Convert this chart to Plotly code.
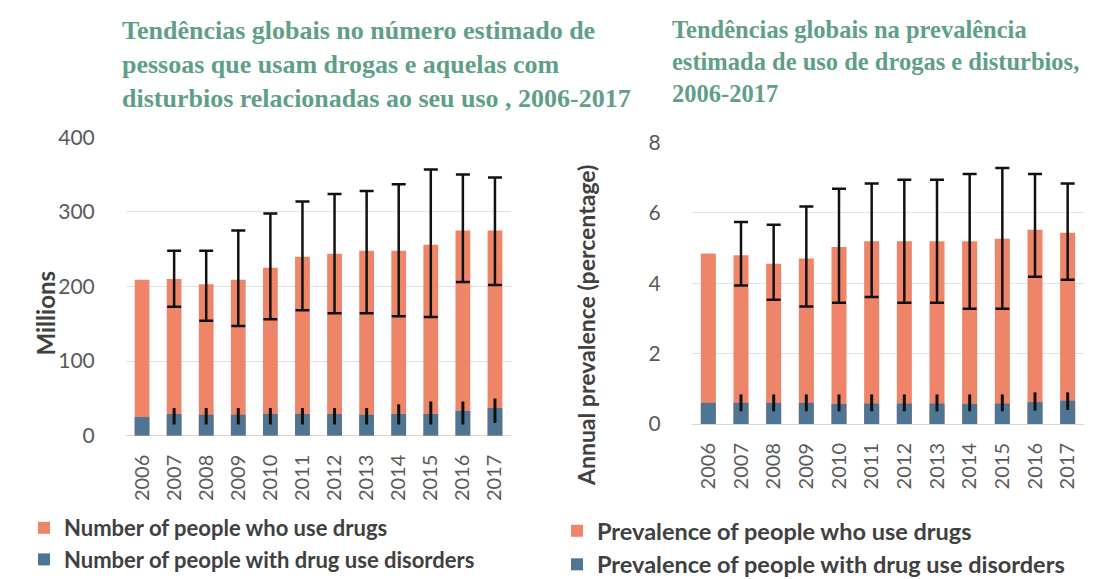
import numpy as np
import plotly.graph_objects as go

years = ["2006", "2007", "2008", "2009", "2010", "2011", "2012", "2013", "2014", "2015", "2016", "2017"]

# Left chart: millions of people (None = no uncertainty range shown)
users_millions = [209, 210, 203, 209, 225, 240, 244, 248, 248, 256, 275, 275]
users_millions_upper = [None, 248, 248, 275, 298, 314, 324, 328, 337, 357, 350, 346]
users_millions_lower = [None, 173, 154, 147, 156, 168, 164, 164, 160, 159, 206, 202]
disorders_millions = [25, 29, 28, 28, 29, 29, 29, 28, 29, 29, 33, 37]
disorders_millions_upper = [None, 37, 37, 37, 37, 37, 37, 37, 42, 46, 46, 50]
disorders_millions_lower = [None, 15, 15, 15, 15, 15, 15, 15, 15, 15, 15, 17]

# Right chart: annual prevalence (%)
users_prev = [4.84, 4.79, 4.55, 4.70, 5.03, 5.19, 5.19, 5.19, 5.19, 5.26, 5.52, 5.43]
users_prev_upper = [None, 5.74, 5.66, 6.18, 6.68, 6.83, 6.94, 6.94, 7.10, 7.27, 7.10, 6.83]
users_prev_lower = [None, 3.93, 3.53, 3.34, 3.44, 3.61, 3.44, 3.44, 3.27, 3.27, 4.18, 4.10]
disorders_prev = [0.60, 0.60, 0.60, 0.60, 0.57, 0.58, 0.58, 0.58, 0.57, 0.58, 0.62, 0.66]
disorders_prev_upper = [None, 0.84, 0.84, 0.84, 0.84, 0.84, 0.84, 0.84, 0.84, 0.84, 0.90, 0.90]
disorders_prev_lower = [None, 0.36, 0.36, 0.36, 0.36, 0.36, 0.36, 0.36, 0.36, 0.36, 0.38, 0.40]

title_left = "Tendências globais no número estimado de<br>pessoas que usam drogas e aquelas com<br>disturbios relacionadas ao seu uso , 2006-2017"
title_right = "Tendências globais na prevalência<br>estimada de uso de drogas e disturbios,<br>2006-2017"

ORANGE = "#EE8468"
BLUE = "#4E7593"
W, H = 1095, 579


def to_float(a):
    return np.array([np.nan if v is None else v for v in a], dtype=float)


def err(vals, up, lo, width, thick):
    v = to_float(vals)
    return dict(type="data", symmetric=False, array=to_float(up) - v, arrayminus=v - to_float(lo),
                color="#111111", thickness=thick, width=width, visible=True)


fig = go.Figure()
fig.add_trace(go.Bar(x=years, y=users_millions, name="Number of people who use drugs",
                     marker=dict(color=ORANGE, line=dict(width=0)),
                     error_y=err(users_millions, users_millions_upper, users_millions_lower, 7, 2.5),
                     xaxis="x", yaxis="y", legend="legend"))
fig.add_trace(go.Bar(x=years, y=disorders_millions, name="Number of people with drug use disorders",
                     marker=dict(color=BLUE, line=dict(width=0)),
                     error_y=err(disorders_millions, disorders_millions_upper, disorders_millions_lower, 0, 3),
                     xaxis="x", yaxis="y", legend="legend"))
fig.add_trace(go.Bar(x=years, y=users_prev, name="Prevalence of people who use drugs",
                     marker=dict(color=ORANGE, line=dict(width=0)),
                     error_y=err(users_prev, users_prev_upper, users_prev_lower, 7, 2.5),
                     xaxis="x2", yaxis="y2", legend="legend2"))
fig.add_trace(go.Bar(x=years, y=disorders_prev, name="Prevalence of people with drug use disorders",
                     marker=dict(color=BLUE, line=dict(width=0)),
                     error_y=err(disorders_prev, disorders_prev_upper, disorders_prev_lower, 0, 3),
                     xaxis="x2", yaxis="y2", legend="legend2"))

XTICKFONT = dict(family="Lato", size=20, color="#595959")
YTICKFONT = dict(family="Lato", size=21, color="#595959")
GRID = "#e3e3e3"

xcommon = dict(type="category", tickangle=-90, tickfont=XTICKFONT, showgrid=False, showline=False,
               ticks="outside", ticklen=10, tickcolor="rgba(0,0,0,0)", fixedrange=True)
ycommon = dict(tickfont=YTICKFONT, showgrid=True, gridcolor=GRID, gridwidth=1, zeroline=True,
               zerolinecolor="#d6d6d6", zerolinewidth=1, showline=False, ticks="outside",
               ticklen=26, tickcolor="rgba(0,0,0,0)", fixedrange=True)

fig.update_layout(
    width=W, height=H,
    margin=dict(l=0, r=0, t=0, b=0, autoexpand=False),
    paper_bgcolor="white", plot_bgcolor="white",
    barmode="overlay", bargap=0.54,
    xaxis=dict(domain=[118 / W, 503 / W], anchor="y", **xcommon),
    yaxis=dict(domain=[1 - 427.7 / H, 1 - 129.3 / H], anchor="x", range=[0, 400],
               tickvals=[0, 100, 200, 300, 400], **ycommon),
    xaxis2=dict(domain=[684 / W, 1076 / W], anchor="y2", **xcommon),
    yaxis2=dict(domain=[1 - 416 / H, 1 - 134.3 / H], anchor="x2", range=[0, 8],
                tickvals=[0, 2, 4, 6, 8], **ycommon),
    legend=dict(x=16 / W, y=1 - 499 / H, xref="container", yref="container",
                xanchor="left", yanchor="top", orientation="v",
                font=dict(family="Lato", size=22, color="#404040", weight="bold"),
                bgcolor="rgba(0,0,0,0)", traceorder="normal", itemwidth=30),
    legend2=dict(x=549 / W, y=1 - 501 / H, xref="container", yref="container",
                 xanchor="left", yanchor="top", orientation="v",
                 font=dict(family="Lato", size=23.5, color="#404040", weight="bold"),
                 bgcolor="rgba(0,0,0,0)", traceorder="normal", itemwidth=30),
    showlegend=True,
    annotations=[
        dict(text=title_left, x=112 / W, y=1 - 6 / H, xref="paper", yref="paper", xanchor="left",
             yanchor="top", align="left", showarrow=False,
             font=dict(family="Liberation Serif", size=26, color="#5f9f88", weight="bold")),
        dict(text=title_right, x=662 / W, y=1 - 6 / H, xref="paper", yref="paper", xanchor="left",
             yanchor="top", align="left", showarrow=False,
             font=dict(family="Liberation Serif", size=24.5, color="#5f9f88", weight="bold")),
        dict(text="Millions", x=20 / W, y=1 - 305 / H, xref="paper", yref="paper", textangle=-90,
             showarrow=False, font=dict(family="Lato", size=24, color="#404040", weight="bold")),
        dict(text="Annual prevalence (percentage)", x=578 / W, y=1 - 318 / H, xref="paper", yref="paper",
             textangle=-90, showarrow=False,
             font=dict(family="Lato", size=23, color="#404040", weight="bold")),
    ],
)

fig.write_html("out.html")
